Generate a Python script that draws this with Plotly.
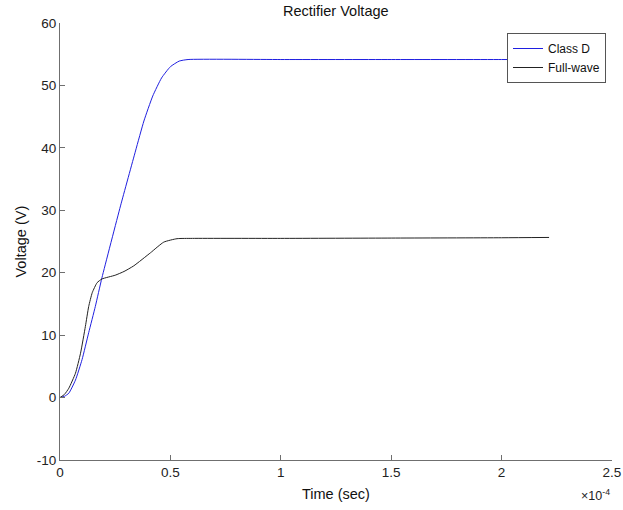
import plotly.graph_objects as go

# Time values in units of 1e-4 s
class_d_t = [0, 0.02, 0.04, 0.07, 0.10, 0.13, 0.16, 0.19, 0.274, 0.342, 0.38, 0.42, 0.46, 0.50, 0.54, 0.58, 1.0, 1.5, 2.0, 2.215]
class_d_v = [0, 0.2, 0.7, 2.8, 6.1, 10.4, 14.6, 19.2, 30.7, 39.5, 44.3, 48.3, 51.2, 53.0, 53.9, 54.15, 54.15, 54.15, 54.15, 54.15]

full_t = [0, 0.02, 0.04, 0.07, 0.093, 0.115, 0.13, 0.146, 0.168, 0.19, 0.25, 0.29, 0.334, 0.41, 0.47, 0.53, 0.6, 1.0, 1.5, 2.0, 2.215]
full_v = [0, 0.5, 1.5, 3.9, 7.1, 11.4, 14.6, 16.8, 18.4, 19.0, 19.6, 20.2, 21.1, 23.2, 24.9, 25.45, 25.5, 25.5, 25.55, 25.6, 25.65]

x_ticks = [0, 0.5, 1, 1.5, 2, 2.5]
x_tick_labels = ["0", "0.5", "1", "1.5", "2", "2.5"]
y_ticks = [-10, 0, 10, 20, 30, 40, 50, 60]
y_tick_labels = ["-10", "0", "10", "20", "30", "40", "50", "60"]

scale = 1e-4
font = "Liberation Sans, Arial, Helvetica, sans-serif"
L, R, T, B = 60, 11, 23, 50
W, H = 623, 510
pw, ph = W - L - R, H - T - B

fig = go.Figure()
fig.add_trace(go.Scatter(x=[t * scale for t in class_d_t], y=class_d_v, mode="lines",
                         name="Class D", line=dict(color="#1f1fe0", width=1, shape="spline", smoothing=0.5)))
fig.add_trace(go.Scatter(x=[t * scale for t in full_t], y=full_v, mode="lines",
                         name="Full-wave", line=dict(color="#222222", width=1, shape="spline", smoothing=0.5)))

axis_common = dict(showgrid=False, zeroline=False, showline=True, linecolor="#6f6f6f", linewidth=1,
                   ticks="inside", ticklen=5, tickcolor="#6f6f6f", automargin=False,
                   tickfont=dict(family=font, size=13.5, color="#222222"))

fig.update_layout(
    width=W, height=H,
    margin=dict(l=L, r=R, t=T, b=B),
    paper_bgcolor="white", plot_bgcolor="white",
    xaxis=dict(range=[0, 2.5 * scale], tickvals=[t * scale for t in x_ticks], ticktext=x_tick_labels,
               **axis_common),
    yaxis=dict(range=[-10, 60], tickvals=y_ticks, ticktext=y_tick_labels, **axis_common),
    legend=dict(x=1 - (612 - 606) / pw, y=1 - (33 - T) / ph, xanchor="right", yanchor="top", bgcolor="white",
                bordercolor="#555555", borderwidth=1,
                font=dict(family=font, size=12, color="#111111"), tracegroupgap=0, itemwidth=30),
    showlegend=True,
)

ann_font = dict(family=font, size=14.5, color="#111111")
fig.add_annotation(text="Rectifier Voltage", xref="paper", yref="paper", x=0.5, y=1 + (T - 11) / ph,
                   xanchor="center", yanchor="middle", showarrow=False, font=ann_font)
fig.add_annotation(text="Time (sec)", xref="paper", yref="paper", x=0.5, y=-(494 - (H - B)) / ph,
                   xanchor="center", yanchor="middle", showarrow=False, font=ann_font)
fig.add_annotation(text="Voltage (V)", xref="paper", yref="paper", x=-(L - 20) / pw, y=0.5,
                   xanchor="center", yanchor="middle", textangle=-90, showarrow=False, font=ann_font)
fig.add_annotation(text="×10<sup>-4</sup>", xref="paper", yref="paper", x=1.0, y=-(495 - (H - B)) / ph,
                   xanchor="right", yanchor="middle", showarrow=False,
                   font=dict(family=font, size=12.5, color="#222222"))

fig.write_html("out.html", config={"displayModeBar": False},
               post_script="document.body.style.margin='0';")
